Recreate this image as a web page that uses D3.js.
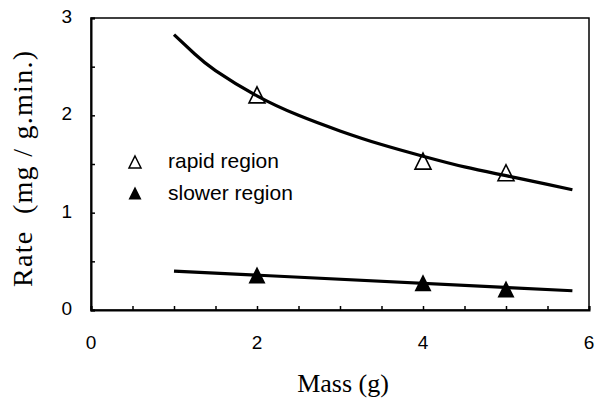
<!DOCTYPE html>
<html>
<head>
<meta charset="utf-8">
<script src="https://cdn.jsdelivr.net/npm/d3@7"></script>
<style>
  body { margin: 0; background: #fff; }
  svg { display: block; }
</style>
</head>
<body>
<div id="chart"></div>
<script>
// data
const massRapid = [2, 4, 5];
const rateRapid = [2.21, 1.53, 1.41];
const massSlower = [2, 4, 5];
const rateSlower = [0.36, 0.28, 0.215];

// fitted curves as they appear in the picture
const fitRapidX = [1, 1.25, 1.5, 2, 2.5, 3, 3.5, 4, 4.5, 5, 5.5, 5.8];
const fitRapidY = [2.83, 2.63, 2.46, 2.20, 2.00, 1.84, 1.70, 1.58, 1.47, 1.38, 1.29, 1.235];
const fitSlowerX = [1, 5.8];
const fitSlowerY = [0.40, 0.198];

const xTickLabels = [0, 2, 4, 6];
const yTickLabels = [0, 1, 2, 3];

function drawChart() {
    const width = 596, height = 398;
    const margin = { top: 18, right: 7, bottom: 88, left: 91 };

    const svg = d3.select("#chart")
        .append("svg")
        .attr("width", width)
        .attr("height", height);

    const x = d3.scaleLinear().domain([0, 6]).range([margin.left, width - margin.right]);
    const y = d3.scaleLinear().domain([0, 3]).range([height - margin.bottom, margin.top]);

    // frame
    svg.append("rect")
        .attr("x", x(0))
        .attr("y", y(3))
        .attr("width", x(6) - x(0))
        .attr("height", y(0) - y(3))
        .attr("fill", "none")
        .attr("stroke", "#000")
        .attr("stroke-width", 1.5);

    // inward ticks every 0.5
    const xAxis = svg.append("g")
        .attr("transform", `translate(0,${y(0)})`)
        .call(d3.axisTop(x).tickValues(d3.range(0, 6.01, 0.5)).tickSize(4).tickFormat(""));
    const yAxis = svg.append("g")
        .attr("transform", `translate(${x(0)},0)`)
        .call(d3.axisRight(y).tickValues(d3.range(0, 3.01, 0.5)).tickSize(4).tickFormat(""));
    [xAxis, yAxis].forEach(g => {
        g.select(".domain").attr("stroke", "#000").attr("stroke-width", 2);
        g.selectAll(".tick line").attr("stroke", "#000").attr("stroke-width", 1.5);
    });

    // tick labels
    svg.append("g")
        .selectAll("text")
        .data(xTickLabels)
        .join("text")
        .attr("x", d => x(d))
        .attr("y", y(0) + 39)
        .attr("text-anchor", "middle")
        .style("font-family", "'Liberation Sans', Arial, sans-serif")
        .style("font-size", "19px")
        .text(d => d);

    svg.append("g")
        .selectAll("text")
        .data(yTickLabels)
        .join("text")
        .attr("x", x(0) - 19)
        .attr("y", d => y(d) + 5)
        .attr("text-anchor", "end")
        .style("font-family", "'Liberation Sans', Arial, sans-serif")
        .style("font-size", "19px")
        .text(d => d);

    // fitted lines
    const line = d3.line()
        .x(d => x(d[0]))
        .y(d => y(d[1]))
        .curve(d3.curveNatural);

    svg.append("path")
        .datum(fitRapidX.map((v, i) => [v, fitRapidY[i]]))
        .attr("d", line)
        .attr("fill", "none")
        .attr("stroke", "#000")
        .attr("stroke-width", 3.2);

    svg.append("path")
        .datum(fitSlowerX.map((v, i) => [v, fitSlowerY[i]]))
        .attr("d", line)
        .attr("fill", "none")
        .attr("stroke", "#000")
        .attr("stroke-width", 3.2);

    // triangle markers
    const tri = (w, h) => `M0,${-h / 2}L${w / 2},${h / 2}L${-w / 2},${h / 2}Z`;

    svg.append("g")
        .selectAll("path")
        .data(massRapid.map((v, i) => [v, rateRapid[i]]))
        .join("path")
        .attr("transform", d => `translate(${x(d[0])},${y(d[1])})`)
        .attr("d", tri(16, 16))
        .attr("fill", "none")
        .attr("stroke", "#000")
        .attr("stroke-width", 1.6);

    svg.append("g")
        .selectAll("path")
        .data(massSlower.map((v, i) => [v, rateSlower[i]]))
        .join("path")
        .attr("transform", d => `translate(${x(d[0])},${y(d[1])})`)
        .attr("d", tri(17, 17))
        .attr("fill", "#000");

    // legend
    const legend = svg.append("g");
    legend.append("path")
        .attr("transform", "translate(135,162)")
        .attr("d", tri(12, 12))
        .attr("fill", "none")
        .attr("stroke", "#000")
        .attr("stroke-width", 1.5);
    legend.append("path")
        .attr("transform", "translate(135,193)")
        .attr("d", tri(13, 13))
        .attr("fill", "#000");
    legend.append("text")
        .attr("x", 168)
        .attr("y", 168)
        .style("font-family", "'Liberation Sans', Arial, sans-serif")
        .style("font-size", "21px")
        .text("rapid region");
    legend.append("text")
        .attr("x", 168)
        .attr("y", 200)
        .style("font-family", "'Liberation Sans', Arial, sans-serif")
        .style("font-size", "21px")
        .text("slower region");

    // axis titles
    svg.append("text")
        .attr("x", 343)
        .attr("y", 392)
        .attr("text-anchor", "middle")
        .style("font-family", "'Liberation Serif', 'Times New Roman', serif")
        .style("font-size", "26px")
        .text("Mass (g)");

    svg.append("text")
        .attr("transform", "rotate(-90)")
        .attr("x", -169)
        .attr("y", 32)
        .attr("text-anchor", "middle")
        .attr("textLength", 236)
        .attr("lengthAdjust", "spacing")
        .style("font-family", "'Liberation Serif', 'Times New Roman', serif")
        .style("font-size", "28px")
        .style("white-space", "pre")
        .text("Rate  (mg / g.min.)");
}

drawChart();
</script>
</body>
</html>
